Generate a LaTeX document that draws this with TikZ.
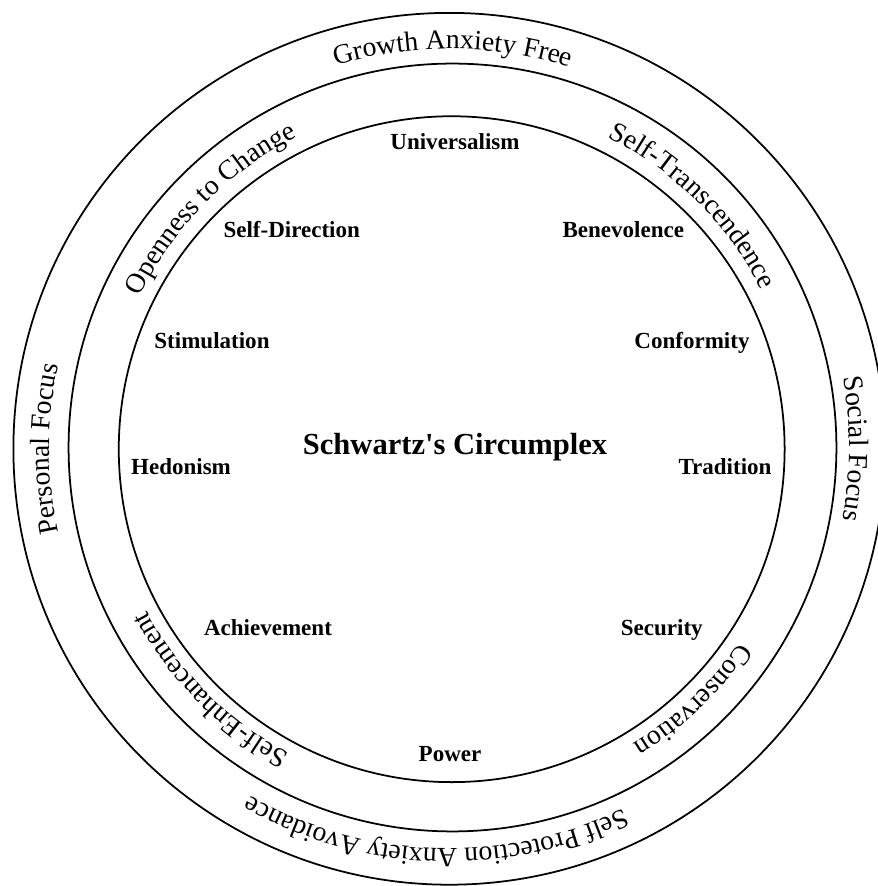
\documentclass[tikz,border=0pt]{standalone}
\usepackage{fontspec}
\setmainfont{Liberation Serif}
\usetikzlibrary{decorations.text}
% font used for the lettering set along the rings
\newcommand\ringfont{\fontsize{15.8}{18}\selectfont}
\begin{document}
\begin{tikzpicture}[x=0.02cm,y=0.02cm,
  ring/.style={line width=1pt},
  value/.style={font=\fontsize{13.1}{15}\selectfont\bfseries, anchor=base, inner sep=0pt},
  title/.style={font=\fontsize{17.4}{20}\selectfont\bfseries, anchor=base, inner sep=0pt},
  ringtext/.style={decorate, decoration={text along path, text align=center, text={|\ringfont|#1}}}
]
\fill[white] (0,0) rectangle (877,886);
\useasboundingbox (0,0) rectangle (877,886);

% centres of the three circles
\coordinate (cin)  at (451.7,436.8);
\coordinate (cmid) at (452.5,438.5);
\coordinate (cout) at (449.3,437.2);

% the three rings
\draw[ring] (cin)  circle[radius=6.66cm];
\draw[ring] (cmid) circle[radius=7.68cm];
\draw[ring] (cout) circle[radius=8.72cm];

% ten values of the circumplex
\node[title] (title) at (455,431) {Schwartz\textquotesingle s Circumplex};
\node[value] (univ) at (455,736)   {Universalism};
\node[value] (sdir) at (291.7,648) {Self-Direction};
\node[value] (bene) at (623.3,648) {Benevolence};
\node[value] (stim) at (212,537)   {Stimulation};
\node[value] (conf) at (692,537)   {Conformity};
\node[value] (hedo) at (181,411)   {Hedonism};
\node[value] (trad) at (725,411)   {Tradition};
\node[value] (achi) at (268,250.3) {Achievement};
\node[value] (secu) at (661.8,250) {Security};
\node[value] (powr) at (450,124)   {Power};

% higher-order values on the middle ring (clockwise arcs)
\path[ringtext={Openness to Change}] (cmid) ++(205.4:6.94cm) arc[start angle=205.4, end angle=65.4, radius=6.94cm];
\path[ringtext={Self-Transcendence}] (cmid) ++(115.2:6.94cm) arc[start angle=115.2, end angle=-24.8, radius=6.94cm];
\path[ringtext={Conservation}] (cmid) ++(23.6:6.94cm) arc[start angle=23.6, end angle=-116.4, radius=6.94cm];
\path[ringtext={Self-Enhancement}] (cmid) ++(295:6.94cm) arc[start angle=295, end angle=155, radius=6.94cm];

% focus and anxiety on the outer ring
\path[ringtext={Growth Anxiety Free}] (cout) ++(159.5:8cm) arc[start angle=159.5, end angle=19.5, radius=8cm];
\path[ringtext={Social Focus}] (cout) ++(70:8cm) arc[start angle=70, end angle=-70, radius=8cm];
\path[ringtext={Self Protection Anxiety Avoidance}] (cout) ++(338:8cm) arc[start angle=338, end angle=198, radius=8cm];
\path[ringtext={Personal Focus}] (cout) ++(250:8cm) arc[start angle=250, end angle=110, radius=8cm];
\end{tikzpicture}
\end{document}
